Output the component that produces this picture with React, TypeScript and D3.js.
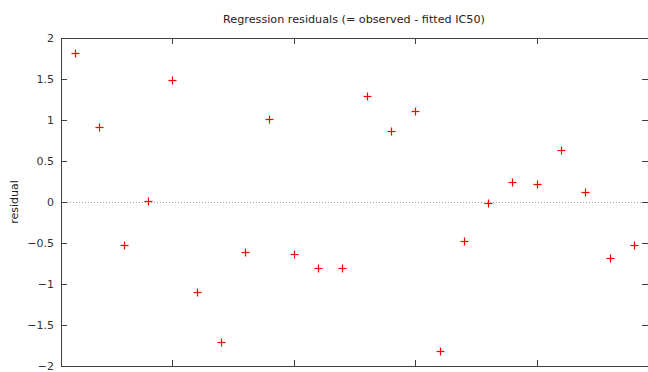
import React, { useEffect, useRef } from 'react';
import * as d3 from 'd3';

const indices = [1, 2, 3, 4, 5, 6, 7, 8, 9, 10, 11, 12, 13, 14, 15, 16, 17, 18, 19, 20, 21, 22, 23, 24];
const residuals = [
  1.82, 0.91, -0.53, 0.01, 1.49, -1.10, -1.71, -0.61, 1.01, -0.64, -0.81, -0.81,
  1.29, 0.86, 1.11, -1.82, -0.47, -0.01, 0.24, 0.22, 0.64, 0.12, -0.68, -0.53,
];
const yTicks = [-2, -1.5, -1, -0.5, 0, 0.5, 1, 1.5, 2];
const xTicks = [5, 10, 15, 20];

const W = 648;
const H = 372;
const FONT = '"DejaVu Sans", Verdana, sans-serif';

export default function App() {
  const svgRef = useRef<SVGSVGElement>(null);

  useEffect(() => {
    if (!svgRef.current) return;
    const svg = d3.select(svgRef.current);
    svg.selectAll('*').remove();

    const left = 61, right = 648, top = 38, bottom = 366;
    const x = d3.scaleLinear().domain([0.42, 24.58]).range([left, right]);
    const y = d3.scaleLinear().domain([-2, 2]).range([bottom, top]);
    const axisColor = '#404040';

    // zero line (dotted)
    svg.append('line')
      .attr('x1', left).attr('x2', right)
      .attr('y1', Math.round(y(0)) + 0.5).attr('y2', Math.round(y(0)) + 0.5)
      .attr('stroke', '#a0a0a0')
      .attr('stroke-dasharray', '1,2');

    // y ticks + labels
    const yt = svg.append('g');
    yTicks.forEach(t => {
      const py = Math.round(y(t)) + 0.5;
      yt.append('line').attr('x1', left).attr('x2', left + 6).attr('y1', py).attr('y2', py)
        .attr('stroke', axisColor);
      yt.append('line').attr('x1', right - 6).attr('x2', right).attr('y1', py).attr('y2', py)
        .attr('stroke', axisColor);
      yt.append('text')
        .attr('x', 54).attr('y', py)
        .attr('dy', '0.35em')
        .attr('text-anchor', 'end')
        .attr('font-family', FONT).attr('font-size', 11)
        .attr('fill', '#333')
        .text(d3.format('')(t));
    });

    // x ticks (no labels)
    xTicks.forEach(t => {
      const px = Math.round(x(t)) + 0.5;
      svg.append('line').attr('x1', px).attr('x2', px).attr('y1', top).attr('y2', top + 6)
        .attr('stroke', axisColor);
      svg.append('line').attr('x1', px).attr('x2', px).attr('y1', bottom - 6).attr('y2', bottom)
        .attr('stroke', axisColor);
    });

    // border
    svg.append('rect')
      .attr('x', left + 0.5).attr('y', top + 0.5)
      .attr('width', right - left).attr('height', bottom - top)
      .attr('fill', 'none').attr('stroke', axisColor);

    // points as '+'
    const pts = svg.append('g').attr('stroke', '#ff0000').attr('stroke-width', 1.2);
    indices.forEach((idx, i) => {
      const px = Math.round(x(idx)) + 0.5;
      const py = Math.round(y(residuals[i])) + 0.5;
      pts.append('line').attr('x1', px - 4).attr('x2', px + 4).attr('y1', py).attr('y2', py);
      pts.append('line').attr('x1', px).attr('x2', px).attr('y1', py - 4).attr('y2', py + 4);
    });

    // title
    svg.append('text')
      .attr('x', 354).attr('y', 23)
      .attr('text-anchor', 'middle')
      .attr('font-family', FONT).attr('font-size', 11.2)
      .attr('fill', '#222')
      .text('Regression residuals (= observed - fitted IC50)');

    // y label
    svg.append('text')
      .attr('transform', `translate(18,${y(0)}) rotate(-90)`)
      .attr('text-anchor', 'middle')
      .attr('font-family', FONT).attr('font-size', 11)
      .attr('fill', '#222')
      .text('residual');
  }, []);

  return (
    <svg
      ref={svgRef}
      width={W}
      height={H}
      style={{ position: 'fixed', left: 0, top: 0, background: '#fff' }}
    />
  );
}
